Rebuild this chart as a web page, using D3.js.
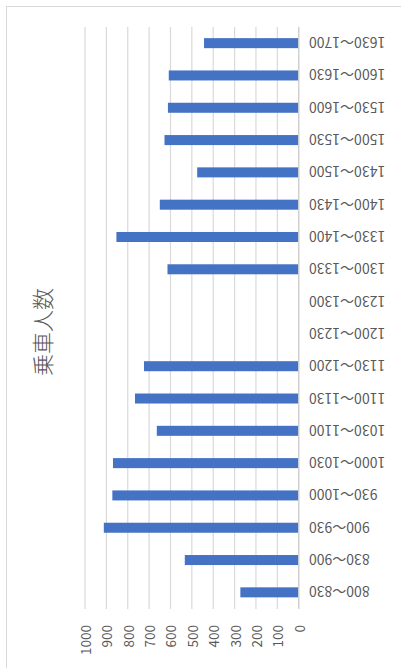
<!DOCTYPE html>
<html>
<head>
<meta charset="utf-8">
<script src="https://cdn.jsdelivr.net/npm/d3@7"></script>
<style>
html,body{margin:0;padding:0;background:#fff;}
svg{display:block;}
</style>
</head>
<body>
<svg id="chart" width="401" height="668"></svg>
<script>
const categories = ["800～830","830～900","900～930","930～1000","1000～1030","1030～1100","1100～1130","1130～1200","1200～1230","1230～1300","1300～1330","1330～1400","1400～1430","1430～1500","1500～1530","1530～1600","1600～1630","1630～1700"];
const riders = [273, 533, 912, 872, 869, 664, 766, 724, null, null, 614, 853, 650, 475, 628, 612, 608, 443];
const tickValues = [0,100,200,300,400,500,600,700,800,900,1000];
const titleText = "乗車人数";

const svg = d3.select("#chart");
const font = "'Noto Sans CJK JP','Noto Sans',sans-serif";
const W = 401, H = 668;
const plot = {left: 85, right: 298.7, top: 27, bottom: 608.5};

// chart frame
svg.append("rect")
  .attr("x", 6.5).attr("y", 6.5)
  .attr("width", W + 20).attr("height", H + 20)
  .attr("fill", "#fff").attr("stroke", "#d9d9d9").attr("stroke-width", 1);

const x = d3.scaleLinear().domain([0, 1000]).range([plot.right, plot.left]);
const y = d3.scaleBand().domain(categories).range([plot.bottom, plot.top])
  .paddingInner(0.69).paddingOuter(0.345);

// gridlines
svg.append("g").selectAll("line").data(tickValues).join("line")
  .attr("x1", d => x(d)).attr("x2", d => x(d))
  .attr("y1", plot.top).attr("y2", plot.bottom + 0.5)
  .attr("stroke", "#d9d9d9").attr("stroke-width", 1.2);

// bars
svg.append("g").selectAll("rect").data(categories.map((c, i) => ({c, v: riders[i]})).filter(d => d.v != null))
  .join("rect")
  .attr("x", d => x(d.v)).attr("y", d => y(d.c))
  .attr("width", d => x(0) - x(d.v)).attr("height", y.bandwidth())
  .attr("fill", "#4472C4");

// category axis line
svg.append("line")
  .attr("x1", x(0)).attr("x2", x(0))
  .attr("y1", plot.top).attr("y2", plot.bottom + 0.5)
  .attr("stroke", "#d0d0d0").attr("stroke-width", 1.3);

// category labels (upside down)
svg.append("g").selectAll("text").data(categories).join("text")
  .attr("transform", d => `translate(309,${y(d) + y.bandwidth() / 2}) rotate(180)`)
  .attr("text-anchor", "end")
  .attr("dominant-baseline", "central")
  .attr("font-family", font).attr("font-size", 14)
  .attr("fill", "#595959")
  .text(d => d);

// value tick labels (rotated)
svg.append("g").selectAll("text").data(tickValues).join("text")
  .attr("transform", d => `translate(${x(d)},625) rotate(-90)`)
  .attr("text-anchor", "end")
  .attr("dominant-baseline", "central")
  .attr("font-family", font).attr("font-size", 13.5)
  .attr("fill", "#595959")
  .text(d => d);

// title
svg.append("text")
  .attr("transform", "translate(41,332) rotate(-90)")
  .attr("text-anchor", "middle")
  .attr("dominant-baseline", "central")
  .attr("font-family", font).attr("font-size", 22).attr("font-weight", 300)
  .attr("fill", "#595959")
  .text(titleText);
</script>
</body>
</html>
